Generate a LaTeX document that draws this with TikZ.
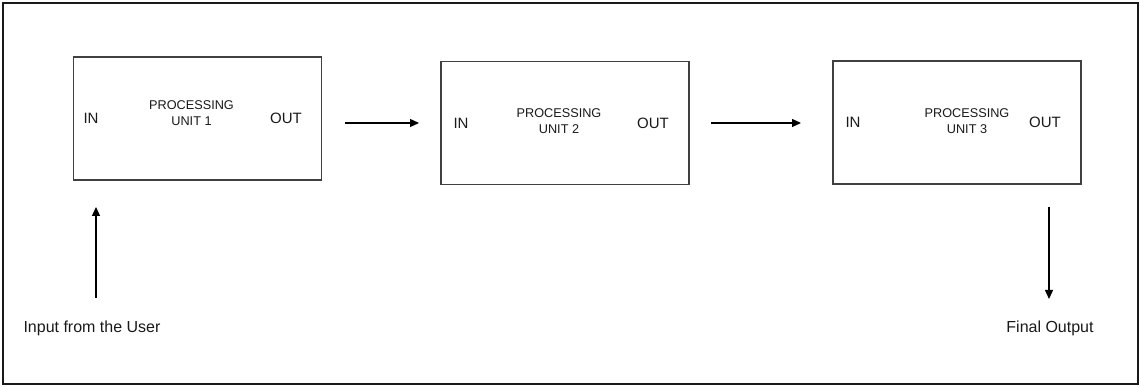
\documentclass[tikz,border=0pt]{standalone}
\usepackage{fontspec}
\setmainfont{Liberation Sans}
\usetikzlibrary{arrows.meta}
\begin{document}
\begin{tikzpicture}[x=1pt,y=-1pt,
  unitbox/.style={draw=black!75,line width=1.1pt,minimum width=248pt,minimum height=123pt,inner sep=0pt},
  portlbl/.style={font=\fontsize{15}{15}\selectfont,inner sep=0pt,anchor=center,text=black!90},
  unitlbl/.style={font=\fontsize{12.7}{16.5}\selectfont,align=center,inner sep=0pt,anchor=center,text=black!90},
  extlbl/.style={font=\fontsize{16}{16}\selectfont,inner sep=0pt,anchor=center,text=black!90},
  flow/.style={draw=black,line width=1.3pt,-{Triangle[length=9pt,width=8pt]}}]
\useasboundingbox (0,0) rectangle (1141,387);
\draw[line width=2.2pt,black!90] (3,3) rectangle (1138,384);
% boxes
\node[unitbox] (b1) at (197.5,118.5) {};
\node[unitbox] (b2) at (565,123) {};
\node[unitbox] (b3) at (957,122.5) {};
% labels in box 1
\node[portlbl] (in1) at (91,118) {IN};
\node[unitlbl] (p1) at (191.5,113) {PROCESSING\\UNIT 1};
\node[portlbl] (out1) at (286,118) {OUT};
% labels in box 2
\node[portlbl] (in2) at (461,123) {IN};
\node[unitlbl] (p2) at (559,121) {PROCESSING\\UNIT 2};
\node[portlbl] (out2) at (653,123) {OUT};
% labels in box 3
\node[portlbl] (in3) at (853,122) {IN};
\node[unitlbl] (p3) at (967,121) {PROCESSING\\UNIT 3};
\node[portlbl] (out3) at (1045,122) {OUT};
% external labels
\node[extlbl] (user) at (92,328) {Input from the User};
\node[extlbl] (final) at (1050,328) {Final Output};
% connector coordinates
\coordinate (a1s) at (345,123);
\coordinate (a1e) at (419,123);
\coordinate (a2s) at (711,123);
\coordinate (a2e) at (801,123);
\coordinate (ups) at (96,298);
\coordinate (upe) at (96,207);
\coordinate (dns) at (1049,207);
\coordinate (dne) at (1049,299);
\draw[flow] (a1s) -- (a1e);
\draw[flow] (a2s) -- (a2e);
\draw[flow] (ups) -- (upe);
\draw[flow] (dns) -- (dne);
\end{tikzpicture}
\end{document}
